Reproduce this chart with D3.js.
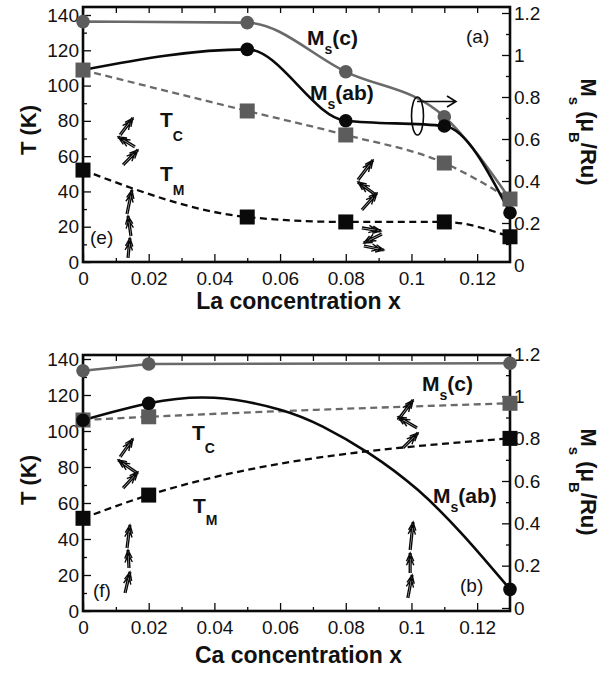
<!DOCTYPE html>
<html><head><meta charset="utf-8">
<script src="https://cdn.jsdelivr.net/npm/d3@7"></script>
<style>
body{margin:0;background:#fff}
svg{display:block}
text{font-family:"Liberation Sans",Arial,sans-serif;fill:#111}
</style>
</head><body>
<svg id="c" width="605" height="675"></svg>
<script>
// ---------- data ----------
const xTickValues = [0, 0.02, 0.04, 0.06, 0.08, 0.1, 0.12];
const xTickLabels = ["0", "0.02", "0.04", "0.06", "0.08", "0.1", "0.12"];
const xMinorTicks = [0.01, 0.03, 0.05, 0.07, 0.09, 0.11];
const tTickValues = [0, 20, 40, 60, 80, 100, 120, 140];
const tMinorTicks = [10, 30, 50, 70, 90, 110, 130];
const msTickValues = [0, 0.2, 0.4, 0.6, 0.8, 1, 1.2];
const msTickLabels = ["0", "0.2", "0.4", "0.6", "0.8", "1", "1.2"];
const msMinorTicks = [0.1, 0.3, 0.5, 0.7, 0.9, 1.1];

// (a)/(e): La doping
const laX    = [0, 0.05, 0.08, 0.11, 0.13];
const laTc   = [108.8, 85.6, 72.0, 56.1, 35.7];
const laTm   = [52.1, 25.5, 22.7, 22.7, 14.3];
const laMsC  = [1.159, 1.154, 0.920, 0.706, 0.314];
const laMsAb = [0.929, 1.027, 0.687, 0.662, 0.249];

// (b)/(f): Ca doping
const caX    = [0, 0.02, 0.13];
const caTc   = [106.1, 107.9, 115.4];
const caTm   = [51.5, 64.4, 95.9];
const caMsC  = [1.121, 1.153, 1.156];
const caMsAb = [0.887, 0.967, 0.088];
const caMsAbFitX = [0, 0.02, 0.04, 0.06, 0.073, 0.087, 0.102, 0.116, 0.13];
const caMsAbFitY = [0.887, 0.967, 0.993, 0.937, 0.857, 0.732, 0.557, 0.339, 0.088];

// spin-structure arrows: [x0, T0, x1, T1] (tail -> head)
const laArrows = [
  [0.0122, 55.0, 0.0167, 63.5], [0.0158, 65.2, 0.0107, 70.9], [0.0113, 72.0, 0.0152, 81.6],
  [0.0137, 2.3, 0.0143, 13.6], [0.0146, 14.7, 0.0137, 26.1], [0.0134, 27.2, 0.0149, 40.8],
  [0.0849, 29.5, 0.0895, 39.1], [0.0892, 38.0, 0.0837, 45.3], [0.0837, 46.5, 0.0883, 57.8],
  [0.0849, 19.3, 0.0907, 17.6], [0.0910, 15.9, 0.0855, 10.8], [0.0855, 9.1, 0.0916, 6.8]
];
const caArrows = [
  [0.0122, 68.3, 0.0167, 77.2], [0.0164, 76.7, 0.0107, 83.9], [0.0113, 85.6, 0.0152, 95.6],
  [0.0128, 10.0, 0.0143, 21.7], [0.0140, 23.9, 0.0137, 33.9], [0.0134, 35.0, 0.0143, 47.8],
  [0.0974, 90.6, 0.1020, 98.9], [0.1017, 101.7, 0.0959, 107.8], [0.0959, 106.1, 0.1005, 117.2],
  [0.0989, 7.2, 0.1002, 20.0], [0.0996, 21.1, 0.0996, 32.2], [0.0996, 33.9, 0.1005, 49.4]
];

// ---------- drawing ----------
const svg = d3.select("#c");
const GRAY_LINE = "#6a6a6a", GRAY_MARK = "#5c5c5c", BLACK = "#0a0a0a";
const L = 83, R = 510;

function subLabel(g, x, y, main, sub, rest, size, subSize, subDy) {
  const t = g.append("text").attr("x", x).attr("y", y)
    .attr("font-size", size).attr("font-weight", "bold");
  t.append("tspan").text(main);
  t.append("tspan").attr("font-size", subSize).attr("dy", subDy).text(sub);
  if (rest) t.append("tspan").attr("dy", -subDy).text(rest);
  return t;
}

function arrow(g, x0, y0, x1, y1) {
  const dx = x1 - x0, dy = y1 - y0, len = Math.hypot(dx, dy);
  const ux = dx / len, uy = dy / len, px = -uy, py = ux;
  const hl = 9, a = 0.42;
  let d = "";
  for (const o of [-0.9, 0.9]) {
    d += `M${x0 + px * o},${y0 + py * o}L${x1 + px * o},${y1 + py * o}`;
  }
  for (const off of [0, 4]) {
    const hx = x1 - ux * off, hy = y1 - uy * off;
    const c = Math.cos(a), s = Math.sin(a);
    const lx = hx - hl * (ux * c - uy * s), ly = hy - hl * (uy * c + ux * s);
    const rx = hx - hl * (ux * c + uy * s), ry = hy - hl * (uy * c - ux * s);
    d += `M${lx},${ly}L${hx},${hy}L${rx},${ry}`;
  }
  g.append("path").attr("d", d).attr("fill", "none").attr("stroke", BLACK)
    .attr("stroke-width", 1.4).attr("stroke-linejoin", "miter");
}

function panel(cfg) {
  const g = svg.append("g");
  const x = d3.scaleLinear().domain([0, 0.13]).range([L, R]);
  const yT = d3.scaleLinear().domain([0, 140]).range(cfg.tRange);
  const yM = d3.scaleLinear().domain([0, 1.2]).range(cfg.mRange);
  const T = cfg.top, B = cfg.bottom;

  const style = sel => {
    sel.select(".domain").remove();
    sel.selectAll("text").attr("font-size", 19).attr("font-family", '"Liberation Sans",Arial,sans-serif').attr("fill", "#111");
    sel.selectAll("line").attr("stroke", BLACK).attr("stroke-width", 1.3);
  };
  g.append("g").attr("transform", `translate(0,${B})`)
    .call(d3.axisBottom(x).tickValues(xTickValues).tickFormat((d, i) => xTickLabels[i]).tickSizeInner(-8).tickSizeOuter(0).tickPadding(10)).call(style);
  g.append("g").attr("transform", `translate(0,${B})`)
    .call(d3.axisBottom(x).tickValues(xMinorTicks).tickFormat("").tickSizeInner(-4).tickSizeOuter(0)).call(style);
  g.append("g").attr("transform", `translate(0,${T})`)
    .call(d3.axisTop(x).tickValues(xTickValues.concat(xMinorTicks)).tickFormat("").tickSizeInner(-6).tickSizeOuter(0)).call(style);
  g.append("g").attr("transform", `translate(${L},0)`)
    .call(d3.axisLeft(yT).tickValues(tTickValues).tickSizeInner(-8).tickSizeOuter(0).tickPadding(4)).call(style);
  g.append("g").attr("transform", `translate(${L},0)`)
    .call(d3.axisLeft(yT).tickValues(tMinorTicks).tickFormat("").tickSizeInner(-4).tickSizeOuter(0)).call(style);
  const ra = g.append("g").attr("transform", `translate(${R},0)`)
    .call(d3.axisRight(yM).tickValues(msTickValues).tickFormat((d, i) => msTickLabels[i]).tickSizeInner(-8).tickSizeOuter(0).tickPadding(4)).call(style);
  ra.selectAll(".tick line").filter(d => yM(d) > B - 1 || yM(d) < T + 1).remove();
  g.append("g").attr("transform", `translate(${R},0)`)
    .call(d3.axisRight(yM).tickValues(msMinorTicks).tickFormat("").tickSizeInner(-4).tickSizeOuter(0)).call(style);

  g.append("rect").attr("x", L).attr("y", T).attr("width", R - L).attr("height", B - T)
    .attr("fill", "none").attr("stroke", BLACK).attr("stroke-width", 2.6);

  const lineT = (xs, ys, curve) => d3.line().x((d, i) => x(xs[i])).y(d => yT(d)).curve(curve)(ys);
  const lineM = (xs, ys, curve) => d3.line().x((d, i) => x(xs[i])).y(d => yM(d)).curve(curve)(ys);
  g.append("path").attr("d", lineT(cfg.xs, cfg.tc, d3.curveMonotoneX)).attr("fill", "none")
    .attr("stroke", GRAY_LINE).attr("stroke-width", 2.3).attr("stroke-dasharray", "7,4.5");
  g.append("path").attr("d", lineT(cfg.xs, cfg.tm, d3.curveMonotoneX)).attr("fill", "none")
    .attr("stroke", BLACK).attr("stroke-width", 2.3).attr("stroke-dasharray", "7,4.5");
  g.append("path").attr("d", lineM(cfg.xs, cfg.msC, cfg.msCCurve)).attr("fill", "none")
    .attr("stroke", GRAY_LINE).attr("stroke-width", 2.6);
  g.append("path").attr("d", lineM(cfg.abX, cfg.abY, cfg.abCurve)).attr("fill", "none")
    .attr("stroke", BLACK).attr("stroke-width", 2.6);

  const drawCircles = () => {
    g.selectAll(null).data(cfg.msC).join("circle").attr("cx", (d, i) => x(cfg.xs[i])).attr("cy", d => yM(d))
      .attr("r", 6.8).attr("fill", GRAY_MARK);
    g.selectAll(null).data(cfg.msAb).join("circle").attr("cx", (d, i) => x(cfg.xs[i])).attr("cy", d => yM(d))
      .attr("r", 6.8).attr("fill", BLACK);
  };
  const drawSquares = () => {
    g.selectAll(null).data(cfg.tc).join("rect").attr("x", (d, i) => x(cfg.xs[i]) - 7.5).attr("y", d => yT(d) - 7.5)
      .attr("width", 15).attr("height", 15).attr("fill", GRAY_MARK);
    g.selectAll(null).data(cfg.tm).join("rect").attr("x", (d, i) => x(cfg.xs[i]) - 7.5).attr("y", d => yT(d) - 7.5)
      .attr("width", 15).attr("height", 15).attr("fill", BLACK);
  };
  if (cfg.circlesFirst) { drawCircles(); drawSquares(); } else { drawSquares(); drawCircles(); }

  cfg.arrows.forEach(a => arrow(g, x(a[0]), yT(a[1]), x(a[2]), yT(a[3])));

  g.append("text").attr("x", (L + R) / 2 + 2).attr("y", cfg.xTitleY).attr("text-anchor", "middle")
    .attr("font-size", 23).attr("font-weight", "bold").text(cfg.xTitle);
  g.append("text").attr("transform", `translate(36,${cfg.yMid}) rotate(-90)`).attr("text-anchor", "middle")
    .attr("font-size", 22).attr("font-weight", "bold").text("T (K)");
  const rt = g.append("text").attr("transform", `translate(581,${cfg.yMid + 2}) rotate(90)`).attr("text-anchor", "middle")
    .attr("font-size", 22).attr("font-weight", "bold");
  rt.append("tspan").text("M");
  rt.append("tspan").attr("font-size", 15).attr("dy", 12).text("s");
  rt.append("tspan").attr("dy", -12).text(" (\u03bc");
  rt.append("tspan").attr("font-size", 15).attr("dy", 12).text("B");
  rt.append("tspan").attr("dy", -12).text("/Ru)");
  return g;
}

const gTop = panel({
  top: 7, bottom: 262, tRange: [262, 15], mRange: [265, 13],
  xs: laX, tc: laTc, tm: laTm, msC: laMsC, msAb: laMsAb,
  abX: laX, abY: laMsAb, abCurve: d3.curveMonotoneX, msCCurve: d3.curveMonotoneX,
  circlesFirst: true, arrows: laArrows,
  xTitle: "La concentration x", xTitleY: 309, yMid: 130
});
subLabel(gTop, 307, 45, "M", "s", "(c)", 21, 14, 9);
subLabel(gTop, 310, 100, "M", "s", "(ab)", 21, 14, 9);
subLabel(gTop, 160, 127, "T", "C", null, 21, 14, 14);
subLabel(gTop, 160, 181, "T", "M", null, 21, 14, 14);
gTop.append("text").attr("x", 466).attr("y", 43).attr("font-size", 19).text("(a)");
gTop.append("text").attr("x", 90).attr("y", 244).attr("font-size", 19).text("(e)");
gTop.append("ellipse").attr("cx", 417.5).attr("cy", 116).attr("rx", 6).attr("ry", 19)
  .attr("fill", "none").attr("stroke", BLACK).attr("stroke-width", 1.6);
gTop.append("path").attr("d", "M417,101.5L456,101.5M447,96L456,101.5L447,107").attr("fill", "none")
  .attr("stroke", BLACK).attr("stroke-width", 1.6);

const gBot = panel({
  top: 355, bottom: 611, tRange: [611, 359], mRange: [608, 354],
  xs: caX, tc: caTc, tm: caTm, msC: caMsC, msAb: caMsAb,
  abX: caMsAbFitX, abY: caMsAbFitY, abCurve: d3.curveNatural, msCCurve: d3.curveLinear,
  circlesFirst: false, arrows: caArrows,
  xTitle: "Ca concentration x", xTitleY: 663, yMid: 480
});
subLabel(gBot, 422, 391, "M", "s", "(c)", 21, 14, 9);
subLabel(gBot, 433, 503, "M", "s", "(ab)", 21, 14, 9);
subLabel(gBot, 192, 440, "T", "C", null, 21, 14, 13);
subLabel(gBot, 193, 513, "T", "M", null, 21, 14, 12);
gBot.append("text").attr("x", 93).attr("y", 597).attr("font-size", 19).text("(f)");
gBot.append("text").attr("x", 460).attr("y", 592).attr("font-size", 19).text("(b)");
</script>
</body></html>
